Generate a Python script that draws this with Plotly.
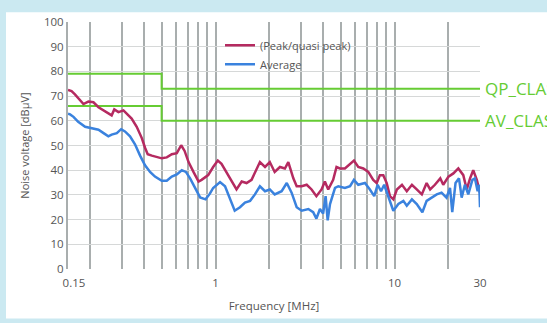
import plotly.graph_objects as go

# Conducted emission scan, 150 kHz - 30 MHz
peak_freq_mhz = [0.15, 0.157, 0.164, 0.175, 0.183, 0.195, 0.208, 0.222, 0.237, 0.252, 0.263, 0.272,
                 0.287, 0.306, 0.319, 0.340, 0.363, 0.387, 0.404, 0.418, 0.441, 0.470, 0.501, 0.534,
                 0.570, 0.608, 0.643, 0.672, 0.707, 0.753, 0.804, 0.836, 0.910, 0.970, 1.03, 1.08,
                 1.15, 1.23, 1.31, 1.40, 1.49, 1.59, 1.70, 1.77, 1.89, 2.01, 2.14, 2.29, 2.44, 2.55,
                 2.72, 2.84, 3.03, 3.23, 3.44, 3.66, 3.91, 4.08, 4.26, 4.54, 4.74, 4.95, 5.28, 5.64,
                 5.93, 6.27, 6.69, 7.13, 7.60, 7.95, 8.28, 8.65, 9.04, 9.42, 9.84, 10.3, 11.0, 11.7,
                 12.5, 13.3, 14.2, 15.1, 15.8, 16.8, 18.0, 18.7, 20.0, 21.3, 22.7, 24.2, 25.3, 26.4,
                 27.5, 28.8, 30.0]
peak_dbuv = [72.5, 72.0, 70.7, 68.1, 66.8, 67.8, 67.5, 65.5, 64.2, 62.9, 62.2, 64.6,
             63.5, 64.2, 62.9, 60.9, 57.6, 53.1, 49.1, 46.5, 45.9, 45.2, 44.8, 45.2,
             46.5, 46.9, 50.1, 47.8, 43.3, 39.3, 35.4, 36.1, 38.0, 41.3, 43.9, 42.6,
             39.3, 36.1, 32.2, 35.4, 34.8, 36.1, 40.7, 43.3, 41.3, 43.3, 39.3, 41.3, 40.7, 43.3,
             36.7, 33.5, 33.5, 34.1, 32.2, 29.5, 32.2, 35.4, 32.2, 36.1, 41.3, 40.7, 40.7, 42.6,
             43.9, 41.3, 40.7, 39.3, 36.1, 34.8, 38.0, 38.0, 34.8, 29.5, 28.2, 32.2, 34.1, 31.5,
             34.1, 32.2, 30.2, 34.8, 32.2, 34.1, 36.7, 34.1, 37.4, 38.7, 40.7, 38.0, 32.2, 36.7,
             40.0, 36.1, 30.9]

avg_freq_mhz = [0.15, 0.154, 0.161, 0.171, 0.187, 0.204, 0.222, 0.237, 0.252, 0.263, 0.281, 0.297,
                0.312, 0.333, 0.355, 0.379, 0.404, 0.431, 0.459, 0.501, 0.534, 0.570, 0.608, 0.648,
                0.683, 0.721, 0.769, 0.820, 0.880, 0.930, 0.970, 1.06, 1.13, 1.20, 1.28, 1.37, 1.46,
                1.56, 1.66, 1.77, 1.89, 2.01, 2.14, 2.34, 2.50, 2.66, 2.84, 3.03, 3.30, 3.51, 3.66,
                3.83, 3.99, 4.12, 4.23, 4.36, 4.54, 4.65, 4.85, 5.28, 5.64, 5.93, 6.27, 6.83, 7.28,
                7.70, 8.04, 8.40, 8.75, 9.22, 9.84, 10.5, 11.2, 11.7, 12.5, 13.3, 14.3, 15.1, 16.1,
                17.2, 18.3, 19.5, 20.4, 21.0, 21.9, 22.9, 23.7, 24.7, 25.8, 27.2, 28.1, 29.1, 29.7,
                30.0]
avg_dbuv = [62.9, 62.6, 61.6, 59.6, 57.6, 57.0, 56.4, 55.0, 53.7, 54.4, 55.0, 56.6,
            55.7, 53.7, 50.5, 45.9, 42.0, 39.3, 37.4, 35.7, 35.7, 37.4, 38.3, 40.0,
            39.3, 36.7, 32.8, 29.0, 28.2, 30.5, 32.8, 35.2, 33.5, 28.9, 23.6, 25.0, 26.9,
            27.6, 30.2, 33.5, 31.5, 32.2, 30.2, 31.5, 34.8, 30.9, 25.0, 23.6, 24.3, 23.0, 20.4,
            24.3, 22.4, 29.5, 19.7, 26.3, 30.2, 32.8, 33.5, 32.8, 33.5, 36.1, 34.1, 34.8, 32.2,
            29.5, 34.1, 31.5, 34.1, 29.5, 23.6, 26.3, 27.6, 25.6, 28.2, 26.3, 23.0, 27.6, 28.9,
            30.2, 30.9, 28.9, 32.8, 23.0, 34.8, 36.7, 28.9, 34.1, 30.2, 36.1, 36.7, 31.5, 34.1,
            25.0]

# CISPR class A limits (step at 0.5 MHz)
limit_freq_mhz = [0.15, 0.5, 0.5, 30]
qp_limit_dbuv = [79, 79, 73, 73]
av_limit_dbuv = [66, 66, 60, 60]

grid_freqs = [0.15, 0.2, 0.3, 0.4, 0.5, 0.6, 0.7, 0.8, 0.9,
              1, 2, 3, 4, 5, 6, 7, 8, 9, 10, 20, 30]
# first label nudged right so it clears the "0" on the y axis
labelled = {0.15: "\u00a0" * 4 + "0.15", 1: "1", 10: "10", 30: "30"}
grid_text = [labelled.get(f, "") for f in grid_freqs]

RED = "#b52a60"
BLUE = "#3a82de"
GREEN = "#66cc33"
TEXT = "#555555"
FONT = "Open Sans"

fig = go.Figure()
fig.add_trace(go.Scatter(x=limit_freq_mhz, y=qp_limit_dbuv, mode="lines",
                         line=dict(color=GREEN, width=2), showlegend=False, hoverinfo="skip"))
fig.add_trace(go.Scatter(x=limit_freq_mhz, y=av_limit_dbuv, mode="lines",
                         line=dict(color=GREEN, width=2), showlegend=False, hoverinfo="skip"))
fig.add_trace(go.Scatter(x=peak_freq_mhz, y=peak_dbuv, mode="lines", name="(Peak/quasi peak)",
                         line=dict(color=RED, width=2.5)))
fig.add_trace(go.Scatter(x=avg_freq_mhz, y=avg_dbuv, mode="lines", name="Average",
                         line=dict(color=BLUE, width=2.5)))

L, R, T, B = 68, 67, 22, 46
W, H = 547, 323
pw, ph = W - L - R, H - T - B


def px(xp):
    return (xp - L) / pw


def py(yp):
    return (H - B - yp) / ph


shapes = [
    # white card behind the chart
    dict(type="rect", xref="paper", yref="paper", x0=px(6), x1=px(W + 5), y0=py(H + 5), y1=py(12),
         fillcolor="white", line=dict(width=0), layer="below"),
    # legend panel
    dict(type="rect", xref="paper", yref="paper", x0=px(221), x1=px(374), y0=py(78), y1=py(29),
         fillcolor="white", line=dict(width=0), layer="between"),
]

annotations = [
    dict(text="QP_CLASS_A", x=px(483), xref="paper", y=73, yref="y", xanchor="left",
         yanchor="middle", showarrow=False, font=dict(family=FONT, size=17, color=GREEN)),
    dict(text="AV_CLASS_A", x=px(483), xref="paper", y=60, yref="y", xanchor="left",
         yanchor="middle", showarrow=False, font=dict(family=FONT, size=17, color=GREEN)),
]

fig.update_layout(
    width=W, height=H,
    margin=dict(l=L, r=R, t=T, b=B, pad=0),
    paper_bgcolor="#cbe9f1",
    plot_bgcolor="rgba(0,0,0,0)",
    font=dict(family=FONT, size=11, color=TEXT),
    shapes=shapes,
    annotations=annotations,
    showlegend=True,
    legend=dict(x=px(220), y=py(31), xanchor="left", yanchor="top",
                bgcolor="rgba(0,0,0,0)", font=dict(family=FONT, size=11, color=TEXT),
                itemclick=False, tracegroupgap=0),
    xaxis=dict(type="log", range=[-0.82391, 1.47712],
               tickvals=grid_freqs, ticktext=grid_text, ticks="",
               ticklabelstandoff=5,
               showgrid=True, gridcolor="#a9aeae", gridwidth=2,
               showline=False, zeroline=False,
               title=dict(text="Frequency [MHz]", standoff=13, font=dict(size=11.5)),
               tickfont=dict(size=11.5)),
    yaxis=dict(range=[0, 100], dtick=10, ticks="",
               showgrid=True, gridcolor="#d6d8d8", gridwidth=1,
               showline=True, linecolor="#a9aeae", linewidth=2,
               zeroline=False,
               title=dict(text="Noise voltage [dBµV]", standoff=12, font=dict(size=11)),
               tickfont=dict(size=11.5)),
)

fig.write_html("out.html")
